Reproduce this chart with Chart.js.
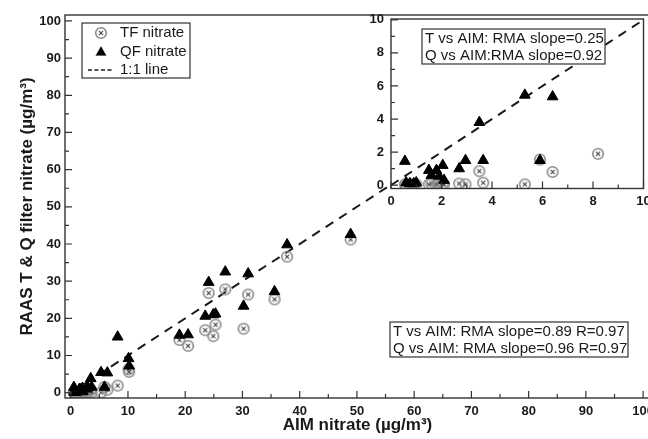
<!DOCTYPE html>
<html>
<head>
<meta charset="utf-8">
<script src="https://cdn.jsdelivr.net/npm/chart.js@4.4.0/dist/chart.umd.min.js"></script>
<style>
    html, body { margin: 0; padding: 0; background: #fff; overflow: hidden; }
    #wrap { position: relative; width: 648px; height: 439px; overflow: hidden; }
    #main { position: absolute; left: 0; top: 0; }
    #inset { position: absolute; left: 340px; top: 0; }
</style>
</head>
<body>
<div id="wrap">
    <canvas id="main" width="652" height="439"></canvas>
    <canvas id="inset" width="308" height="215"></canvas>
</div>
<script>
// AIM nitrate (x) and the two RAAS filter values (y) for each sample
const aimNitrate = [0.55, 0.6, 0.75, 0.9, 1.0, 1.5, 1.6, 1.8, 1.9, 2.05, 2.1, 2.7, 2.95, 3.5, 3.65,
    5.3, 5.9, 6.4, 8.2, 10.1, 10.2, 19.0, 20.5, 23.5, 24.1, 24.9, 25.3, 27.0, 30.2, 31.0, 35.6, 37.8, 48.9];
const tfNitrate = [0.05, 0.0, 0.05, 0.0, 0.05, 0.05, 0.1, 0.05, 0.15, 0.1, 0.05, 0.1, 0.05, 0.85, 0.15,
    0.05, 1.55, 0.8, 1.9, 6.3, 5.6, 14.2, 12.6, 16.8, 26.8, 15.2, 18.3, 27.8, 17.2, 26.4, 25.1, 36.6, 41.2];
const qfNitrate = [1.45, 0.15, 0.1, 0.1, 0.15, 0.9, 0.6, 0.9, 0.55, 1.2, 0.3, 1.0, 1.5, 3.8, 1.5,
    5.45, 1.5, 5.35, 15.0, 9.2, 7.2, 15.5, 15.6, 20.6, 29.7, 21.0, 21.2, 32.5, 23.3, 32.0, 27.2, 39.8, 42.6];
const oneToOne = [0, 100];

const mainTicks = [0, 10, 20, 30, 40, 50, 60, 70, 80, 90, 100];
const mainMinorTicks = [5, 15, 25, 35, 45, 55, 65, 75, 85, 95];
const insetTicks = [0, 2, 4, 6, 8, 10];
const insetMinorTicks = [1, 3, 5, 7, 9];

const legendLabels = ['TF nitrate', 'QF nitrate', '1:1 line'];
const mainNote = ['T vs AIM: RMA slope=0.89 R=0.97', 'Q vs AIM: RMA slope=0.96 R=0.97'];
const insetNote = ['T vs AIM: RMA slope=0.25', 'Q vs AIM:RMA slope=0.92'];

const INK = '#1a1a1a';
const FONT = "'Liberation Sans', Arial, sans-serif";

// circle with a small x inside, used for the TF points
function crossCircle() {
    const c = document.createElement('canvas');
    c.width = 14; c.height = 14;
    const g = c.getContext('2d');
    g.strokeStyle = '#8a8a8a';
    g.lineWidth = 1.6;
    g.beginPath();
    g.arc(7, 7, 5.3, 0, Math.PI * 2);
    g.stroke();
    g.strokeStyle = '#454545';
    g.lineWidth = 1.1;
    g.beginPath();
    g.moveTo(4.9, 4.9); g.lineTo(9.1, 9.1);
    g.moveTo(9.1, 4.9); g.lineTo(4.9, 9.1);
    g.stroke();
    return c;
}
const tfMarker = crossCircle();

function points(xs, ys, maxX, maxY) {
    const out = [];
    xs.forEach((x, i) => {
        if (x <= maxX && ys[i] <= maxY) out.push({ x: x, y: ys[i] });
    });
    return out;
}

function datasets(maxX, maxY) {
    return [{
        label: legendLabels[0],
        data: points(aimNitrate, tfNitrate, maxX, maxY),
        pointStyle: tfMarker,
        pointRadius: 6,
        order: 1
    }, {
        label: legendLabels[1],
        data: points(aimNitrate, qfNitrate, maxX, maxY),
        pointStyle: 'triangle',
        pointRadius: 6.2,
        backgroundColor: '#000',
        borderColor: '#000',
        borderWidth: 1,
        order: 0
    }, {
        label: legendLabels[2],
        data: oneToOne.map(v => ({ x: v, y: v })),
        showLine: true,
        borderColor: INK,
        borderWidth: 2,
        borderDash: [9, 7],
        pointRadius: 0,
        order: 2
    }];
}

// white plot face, frame and inward tick marks
const framePlugin = {
    id: 'frame',
    beforeDraw(chart, args, opts) {
        const { ctx, chartArea: a } = chart;
        ctx.save();
        ctx.fillStyle = '#fff';
        ctx.fillRect(a.left, a.top, a.right - a.left, a.bottom - a.top);
        ctx.restore();
    },
    afterDraw(chart, args, opts) {
        const { ctx, chartArea: a, scales } = chart;
        ctx.save();
        ctx.strokeStyle = '#333';
        ctx.lineWidth = 1.4;
        ctx.strokeRect(a.left, a.top, a.right - a.left, a.bottom - a.top);
        ctx.lineWidth = 1.2;
        ctx.beginPath();
        const mark = (vals, len) => {
            vals.forEach(v => {
                const px = scales.x.getPixelForValue(v);
                if (px >= a.left && px <= a.right) { ctx.moveTo(px, a.bottom); ctx.lineTo(px, a.bottom - len); }
                const py = scales.y.getPixelForValue(v);
                if (py >= a.top && py <= a.bottom) { ctx.moveTo(a.left, py); ctx.lineTo(a.left + len, py); }
            });
        };
        mark(opts.major, 7);
        mark(opts.minor, 4);
        ctx.stroke();
        ctx.restore();
    }
};

// text boxes (legend and the RMA notes)
function drawNote(ctx, lines, x, y, w, h) {
    ctx.save();
    ctx.fillStyle = '#fff';
    ctx.fillRect(x, y, w, h);
    ctx.strokeStyle = '#333';
    ctx.lineWidth = 1.2;
    ctx.strokeRect(x, y, w, h);
    ctx.fillStyle = INK;
    ctx.font = '15px ' + FONT;
    ctx.textBaseline = 'middle';
    lines.forEach((t, i) => ctx.fillText(t, x + 3, y + 10 + i * 16.5));
    ctx.restore();
}

const legendPlugin = {
    id: 'boxLegend',
    afterDraw(chart) {
        const { ctx, chartArea: a } = chart;
        const x = a.left + 17, y = a.top + 8;
        ctx.save();
        ctx.fillStyle = '#fff';
        ctx.fillRect(x, y, 108, 55);
        ctx.strokeStyle = '#333';
        ctx.lineWidth = 1.2;
        ctx.strokeRect(x, y, 108, 55);
        chart.data.datasets.forEach((ds, i) => {
            const meta = chart.getDatasetMeta(i);
            const cy = y + 10 + i * 18.5;
            if (ds.showLine) {
                ctx.save();
                ctx.strokeStyle = ds.borderColor;
                ctx.lineWidth = 1.5;
                ctx.setLineDash([4, 2.5]);
                ctx.beginPath();
                ctx.moveTo(x + 6, cy);
                ctx.lineTo(x + 30, cy);
                ctx.stroke();
                ctx.restore();
            } else {
                const el = meta.data[0];
                Chart.helpers.drawPoint(ctx, {
                    pointStyle: el.options.pointStyle,
                    radius: ds.pointStyle === 'triangle' ? 5.2 : 5,
                    borderWidth: el.options.borderWidth,
                    rotation: 0
                }, x + 19, cy + (ds.pointStyle === 'triangle' ? 1 : 0));
                if (ds.pointStyle === 'triangle') {
                    ctx.fillStyle = '#000';
                    ctx.fill();
                }
            }
            ctx.fillStyle = INK;
            ctx.font = '15px ' + FONT;
            ctx.textBaseline = 'middle';
            ctx.fillText(ds.label, x + 38, cy);
        });
        ctx.restore();
    }
};

function notePlugin(lines, dx, dy, w) {
    return {
        id: 'note',
        afterDraw(chart) {
            const a = chart.chartArea;
            drawNote(chart.ctx, lines, a.left + dx, a.top + dy, w, 35);
        }
    };
}

function axis(min, max, ticks, title, fit) {
    return {
        type: 'linear',
        min: min,
        max: max,
        border: { display: false },
        grid: { display: false, drawTicks: false },
        afterBuildTicks: scale => { scale.ticks = ticks.map(v => ({ value: v })); },
        afterFit: scale => {
            fit(scale);
            scale.paddingLeft = 0; scale.paddingRight = 0;
            scale.paddingTop = 0; scale.paddingBottom = 0;
        },
        ticks: {
            color: INK,
            font: { family: FONT, size: 13, weight: 'bold' },
            maxRotation: 0,
            autoSkip: false
        },
        title: title
    };
}

const common = {
    responsive: false,
    animation: false,
    events: [],
    plugins: { legend: { display: false }, tooltip: { enabled: false } }
};

new Chart(document.getElementById('main'), {
    type: 'scatter',
    data: { datasets: datasets(200, 200) },
    options: {
        ...common,
        layout: { autoPadding: false, padding: { top: 15, right: 2, left: 0, bottom: 0 } },
        scales: {
            x: Object.assign(axis(-1, 101.2, mainTicks, {
                display: true, text: 'AIM nitrate (µg/m³)', color: INK,
                font: { family: FONT, size: 17, weight: 'bold' }, padding: { top: 0, bottom: 3 }
            }, s => { s.height = 41; }), { ticks: {
                color: INK, font: { family: FONT, size: 13, weight: 'bold' },
                maxRotation: 0, autoSkip: false, padding: 6 } }),
            y: Object.assign(axis(-1.43, 101.6, mainTicks, {
                display: true, text: 'RAAS T & Q filter nitrate (µg/m³)', color: INK,
                font: { family: FONT, size: 17, weight: 'bold' }, padding: { top: 17, bottom: 0 }
            }, s => { s.width = 65; }), { ticks: {
                color: INK, font: { family: FONT, size: 13, weight: 'bold' },
                autoSkip: false, padding: 4 } }),
        },
        plugins: { ...common.plugins, frame: { major: mainTicks, minor: mainMinorTicks } }
    },
    plugins: [framePlugin, legendPlugin, notePlugin(mainNote, 325, 307, 238)]
});

new Chart(document.getElementById('inset'), {
    type: 'scatter',
    data: { datasets: datasets(10, 10) },
    options: {
        ...common,
        layout: { autoPadding: false, padding: { top: 19, right: 4.5, left: 0, bottom: 0 } },
        scales: {
            x: Object.assign(axis(0, 10, insetTicks, { display: false }, s => { s.height = 26.5; }), { ticks: {
                color: INK, font: { family: FONT, size: 13, weight: 'bold' },
                maxRotation: 0, autoSkip: false, padding: 5 } }),
            y: Object.assign(axis(-0.2, 10.05, insetTicks, { display: false }, s => { s.width = 51; }), { ticks: {
                color: INK, font: { family: FONT, size: 13, weight: 'bold' },
                autoSkip: false, padding: 7 } })
        },
        plugins: { ...common.plugins, frame: { major: insetTicks, minor: insetMinorTicks } }
    },
    plugins: [framePlugin, notePlugin(insetNote, 31, 10, 183)]
});
</script>
</body>
</html>
